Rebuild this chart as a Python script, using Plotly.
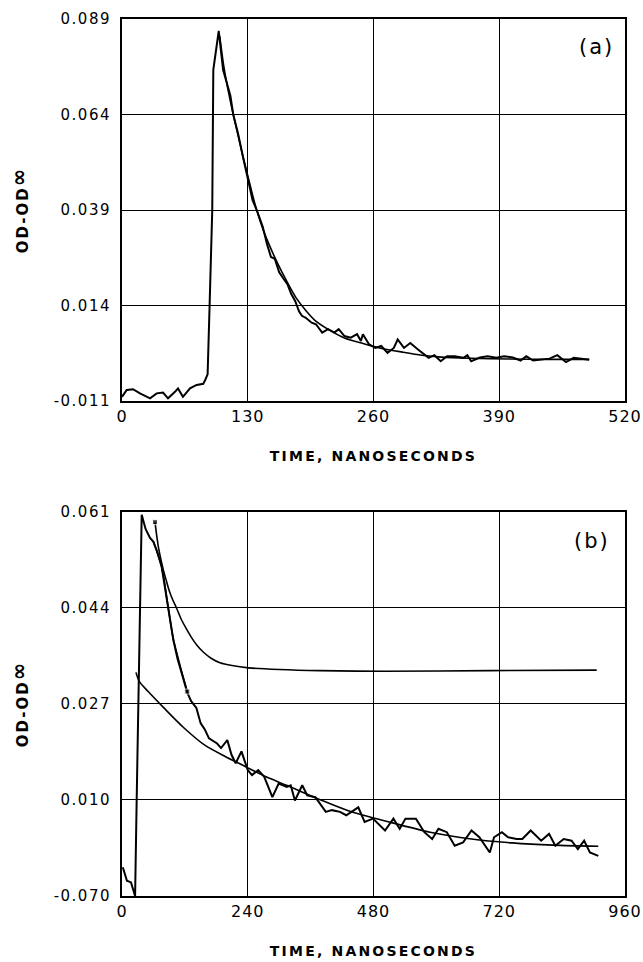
import plotly.graph_objects as go

# ---------------- Panel (a) ----------------
a_x_ticks = [0, 130, 260, 390, 520]
a_y_ticks = [-0.011, 0.014, 0.039, 0.064, 0.089]
a_y_labels = ["-0.011", "0.014", "0.039", "0.064", "0.089"]

a_data_t = [0, 4.9, 11.4, 18.6, 29, 35.9, 42.4, 47.6, 54.8, 57.9, 63, 70.3, 77.2, 84, 86,
            88.5, 90.5, 93.3, 94.4, 100, 104.5, 108.5, 112, 115, 120, 125, 130, 135, 140,
            145.5, 150, 154, 158, 162.5, 167, 171, 175, 179, 183, 186, 190, 196, 200.5,
            207, 213, 219.5, 224, 230, 236.5, 243, 247, 249, 255.5, 262, 268, 274.5, 281,
            285, 291.5, 298, 306, 312, 317, 323, 329.5, 336, 344, 353, 357, 361, 370, 378,
            387, 395, 404, 412, 418, 425, 433, 442, 450, 459, 467, 476, 483]
a_data_v = [-0.0099, -0.0081, -0.0079, -0.0090, -0.0103, -0.0090, -0.0088, -0.0103, -0.0086,
            -0.0077, -0.0099, -0.0077, -0.0068, -0.0065, -0.0055,
            -0.0040, 0.0135, 0.0390, 0.0757, 0.0859, 0.0757, 0.0722, 0.0690, 0.0640, 0.0590,
            0.0530, 0.0470, 0.0416, 0.0385,
            0.0346, 0.0300, 0.0267, 0.0262, 0.0227, 0.0210, 0.0196, 0.0170, 0.0152, 0.0125,
            0.0113, 0.0108, 0.0095, 0.0091,
            0.0069, 0.0078, 0.0069, 0.0078, 0.0060, 0.0056, 0.0065, 0.0047, 0.0065, 0.0038,
            0.0029, 0.0034, 0.0016, 0.0029,
            0.0051, 0.0029, 0.0042, 0.0025, 0.0012, 0.0003, 0.0010, -0.0006, 0.0007, 0.0007,
            0.0003, 0.0010, -0.0006, 0.0004, 0.0007,
            0.0003, 0.0007, 0.0004, -0.0004, 0.0007, -0.0004, -0.0002, 0.0001, 0.0010,
            -0.0008, 0.0003, 0.0001, -0.0002]

a_fit_t = [101, 105, 110, 115, 120, 125, 130, 137, 145, 152, 160, 170, 180, 190, 200, 215,
           230, 250, 270, 290, 310, 330, 360, 400, 440, 483]
a_fit_v = [0.0845, 0.0770, 0.0700, 0.0640, 0.0585, 0.0530, 0.0480, 0.0410, 0.0345, 0.0300,
           0.0255, 0.0205, 0.0160, 0.0127, 0.0100, 0.0075, 0.0055, 0.0040, 0.0027, 0.0018,
           0.0010, 0.0005, 0.0002, 0.0000, -0.0001, -0.0001]

# ---------------- Panel (b) ----------------
b_x_ticks = [0, 240, 480, 720, 960]
b_y_ticks = [-0.007, 0.010, 0.027, 0.044, 0.061]
b_y_labels = ["-0.070", "0.010", "0.027", "0.044", "0.061"]

b_data_t = [1.6, 9.4, 17.2, 25, 28, 33, 37.6, 45, 53.5, 60, 67, 75.7, 88, 98, 106, 114, 119,
            124.6, 132, 142, 150, 158, 166, 174, 181.5, 189, 201, 209, 217, 228, 240, 248,
            260, 271.5, 287, 299, 314.5, 322, 330, 344, 353.6, 369, 389, 400.6, 416, 428,
            451, 463, 479, 502, 518, 530, 541, 561, 577, 592, 604, 620, 635, 651, 667, 682,
            702, 710, 725, 737, 753, 764, 780, 800, 815, 827, 843, 858, 870, 882, 893, 909]
b_data_v = [-0.0019, -0.0043, -0.0046, -0.0070, 0.0100, 0.0400, 0.0605, 0.0580, 0.0564,
            0.0557, 0.0540, 0.0513, 0.0440, 0.0383, 0.0350, 0.0325, 0.0310,
            0.0290, 0.0275, 0.0263, 0.0236, 0.0225, 0.0209, 0.0205, 0.0200, 0.0192, 0.0206,
            0.0180, 0.0165, 0.0186, 0.0153, 0.0144,
            0.0153, 0.0141, 0.0105, 0.0129, 0.0123, 0.0126, 0.0099, 0.0126, 0.0108, 0.0105,
            0.0079, 0.0082, 0.0079, 0.0073,
            0.0087, 0.0061, 0.0067, 0.0046, 0.0067, 0.0049, 0.0067, 0.0067, 0.0043, 0.0031,
            0.0049, 0.0043, 0.0019, 0.0025, 0.0046, 0.0034,
            0.0007, 0.0034, 0.0043, 0.0034, 0.0031, 0.0031, 0.0046, 0.0028, 0.0040, 0.0019,
            0.0031, 0.0028, 0.0013, 0.0028, 0.0007, 0.0001]

b_fit1_t = [26.7, 33, 50, 80, 119, 158, 197, 236, 275, 314, 377, 432, 510, 588, 667, 745,
            823, 909]
b_fit1_v = [0.0326, 0.0310, 0.0292, 0.0263, 0.0227, 0.0197, 0.0177, 0.0159, 0.0141, 0.0126,
            0.0101, 0.0081, 0.0061, 0.0043, 0.0031, 0.0024, 0.0020, 0.0018]

b_fit2_t = [63, 66, 70, 75, 79, 85, 90, 97, 104, 113, 123.5, 133, 143, 155, 170, 187, 210,
            241, 300, 378, 500, 700, 906]
b_fit2_v = [0.0592, 0.0570, 0.0545, 0.0523, 0.0507, 0.0487, 0.0471, 0.0454, 0.0440, 0.0420,
            0.0402, 0.0387, 0.0374, 0.0362, 0.0351, 0.0343, 0.0338, 0.0334, 0.0331, 0.0329,
            0.0328, 0.0329, 0.0330]

b_fit3_t = [60, 75.7, 88, 98, 114, 124.6]
b_fit3_v = [0.0557, 0.0513, 0.0442, 0.0385, 0.0327, 0.0292]

assert len(a_data_t) == len(a_data_v)
assert len(a_fit_t) == len(a_fit_v)
assert len(b_data_t) == len(b_data_v)
assert len(b_fit1_t) == len(b_fit1_v)
assert len(b_fit2_t) == len(b_fit2_v)

FONT = "DejaVu Sans"
INK = "black"


def spaced(txt, px):
    return f'<span style="letter-spacing:{px}px">{txt}</span>'


fig = go.Figure()
fig.add_trace(go.Scatter(x=a_data_t, y=a_data_v, mode="lines",
                         line=dict(color=INK, width=2), xaxis="x", yaxis="y"))
fig.add_trace(go.Scatter(x=a_fit_t, y=a_fit_v, mode="lines",
                         line=dict(color=INK, width=1.6, shape="spline", smoothing=0.8),
                         xaxis="x", yaxis="y"))

fig.add_trace(go.Scatter(x=b_data_t, y=b_data_v, mode="lines",
                         line=dict(color=INK, width=2), xaxis="x2", yaxis="y2"))
fig.add_trace(go.Scatter(x=b_fit1_t, y=b_fit1_v, mode="lines",
                         line=dict(color=INK, width=1.6, shape="spline", smoothing=0.8),
                         xaxis="x2", yaxis="y2"))
fig.add_trace(go.Scatter(x=b_fit2_t, y=b_fit2_v, mode="lines+markers",
                         line=dict(color=INK, width=1.6, shape="spline", smoothing=0.8),
                         marker=dict(symbol="square", size=[5] + [0] * (len(b_fit2_t) - 1),
                                     color=INK),
                         xaxis="x2", yaxis="y2"))
fig.add_trace(go.Scatter(x=b_fit3_t, y=b_fit3_v, mode="lines+markers",
                         line=dict(color=INK, width=1.6, shape="spline", smoothing=0.8),
                         marker=dict(symbol="square", size=[0] * (len(b_fit3_t) - 1) + [5],
                                     color=INK),
                         xaxis="x2", yaxis="y2"))

axis_common = dict(showgrid=True, gridcolor=INK, gridwidth=1.4, showline=True, linecolor=INK,
                   linewidth=2, mirror=True, ticks="", zeroline=False, tickmode="array",
                   automargin=False)

xtitle = dict(text=spaced("TIME, NANOSECONDS", 2.2),
              font=dict(family=FONT, size=14, color=INK, weight="bold"), standoff=26)
ytitle = dict(text=spaced('OD-OD<span style="font-size:21px;baseline-shift:2px">∞</span>', 2),
              font=dict(family=FONT, size=15, color=INK, weight="bold"), standoff=21)

xtickfont = dict(family=FONT, size=16, color=INK)
ytickfont = dict(family=FONT, size=15, color=INK)

fig.update_layout(
    width=643, height=962,
    margin=dict(l=122, r=18, t=19, b=66),
    paper_bgcolor="white", plot_bgcolor="white",
    showlegend=False,
    xaxis=dict(axis_common, domain=[0, 1], anchor="y", range=[0, 520], tickvals=a_x_ticks,
               ticktext=[spaced(str(v), 1) for v in a_x_ticks], tickfont=xtickfont,
               ticklabelstandoff=0, title=xtitle),
    yaxis=dict(axis_common, domain=[0.5644, 1], anchor="x", range=[-0.011, 0.089],
               tickvals=a_y_ticks, ticktext=[spaced(s, 1.5) for s in a_y_labels],
               tickfont=ytickfont, ticklabelstandoff=6, title=ytitle),
    xaxis2=dict(axis_common, domain=[0, 1], anchor="y2", range=[0, 960], tickvals=b_x_ticks,
                ticktext=[spaced(str(v), 1) for v in b_x_ticks], tickfont=xtickfont,
                ticklabelstandoff=0, title=xtitle),
    yaxis2=dict(axis_common, domain=[0, 0.4379], anchor="x2", range=[-0.007, 0.061],
                tickvals=b_y_ticks, ticktext=[spaced(s, 1.5) for s in b_y_labels],
                tickfont=ytickfont, ticklabelstandoff=6, title=ytitle),
    annotations=[
        dict(text=spaced("(a)", 2), xref="x domain", yref="y domain", x=0.944, y=0.927,
             showarrow=False, font=dict(family=FONT, size=21, color=INK),
             xanchor="center", yanchor="middle"),
        dict(text=spaced("(b)", 2), xref="x2 domain", yref="y2 domain", x=0.934, y=0.924,
             showarrow=False, font=dict(family=FONT, size=21, color=INK),
             xanchor="center", yanchor="middle"),
    ],
)

fig.write_html("out.html")
